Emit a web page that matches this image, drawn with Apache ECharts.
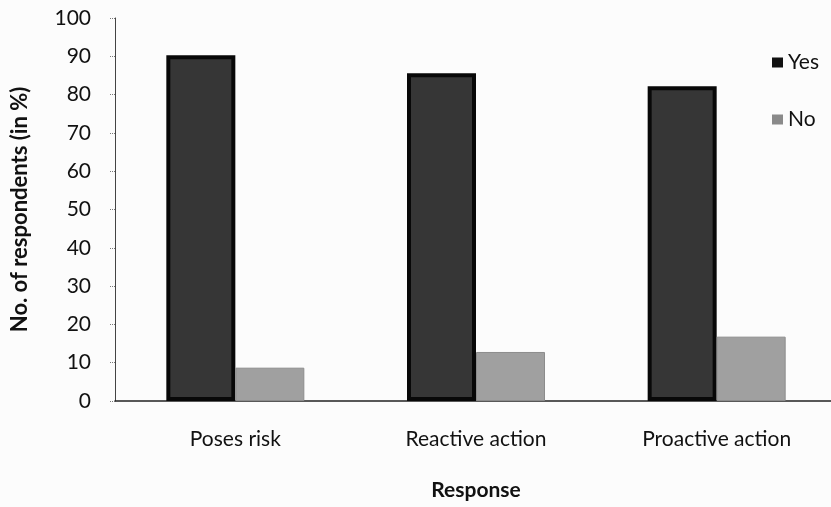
<!DOCTYPE html>
<html><head><meta charset="utf-8">
<script src="https://cdn.jsdelivr.net/npm/echarts@6/dist/echarts.min.js"></script>
<style>html,body{margin:0;padding:0;background:#fcfcfc}#c{width:831px;height:507px}</style>
</head><body><div id="c"></div>
<script>
const categories = ['Poses risk', 'Reactive action', 'Proactive action'];
const yesValues = [90.3, 85.6, 82.2];
const noValues = [8.7, 12.8, 16.8];
const seriesNames = ['Yes', 'No'];
const yAxisTitle = 'No. of respondents (in %)';
const xAxisTitle = 'Response';

const chart = echarts.init(document.getElementById('c'));
const font = 'Lato, "Open Sans", sans-serif';
chart.setOption({
  backgroundColor: '#fcfcfc',
  animation: false,
  grid: { left: 115, top: 18, width: 722, height: 383, outerBoundsMode: 'none', containLabel: false },
  legend: {
    orient: 'vertical', left: 767, top: 47, itemWidth: 11, itemHeight: 10, itemGap: 36,
    icon: 'rect',
    itemStyle: { borderWidth: 0 },
    textStyle: { fontFamily: font, fontSize: 21, lineHeight: 20, color: '#111' },
    data: [
      { name: seriesNames[0], itemStyle: { color: '#111', borderWidth: 0 } },
      { name: seriesNames[1], itemStyle: { color: '#8a8a8a', borderWidth: 0 } }
    ]
  },
  xAxis: {
    type: 'category', data: categories,
    axisLine: { lineStyle: { color: '#222', width: 1.5 } },
    axisTick: { show: false },
    axisLabel: { fontFamily: font, fontSize: 21, color: '#111', margin: 28 },
    name: xAxisTitle, nameLocation: 'middle', nameGap: 79,
    nameTextStyle: { fontFamily: font, fontSize: 21, fontWeight: 'bold', color: '#111' }
  },
  yAxis: {
    type: 'value', min: 0, max: 100, interval: 10,
    axisLine: { show: true, lineStyle: { color: '#444', width: 1 } },
    axisTick: { show: true, length: 6, lineStyle: { color: '#777', type: 'dotted' } },
    splitLine: { show: false },
    axisLabel: { fontFamily: font, fontSize: 21, color: '#111', margin: 24 },
    name: yAxisTitle, nameLocation: 'middle', nameGap: 84,
    nameTextStyle: { fontFamily: font, fontSize: 22, fontWeight: 'bold', color: '#111' }
  },
  series: [
    { name: seriesNames[0], type: 'bar', data: yesValues, barWidth: 69, barGap: '0%',
      itemStyle: { color: '#363636', borderColor: '#080808', borderWidth: 4 } },
    { name: seriesNames[1], type: 'bar', data: noValues, barWidth: 69,
      itemStyle: { color: '#a0a0a0', borderColor: '#8c8c8c', borderWidth: 1 } }
  ]
});
</script></body></html>
